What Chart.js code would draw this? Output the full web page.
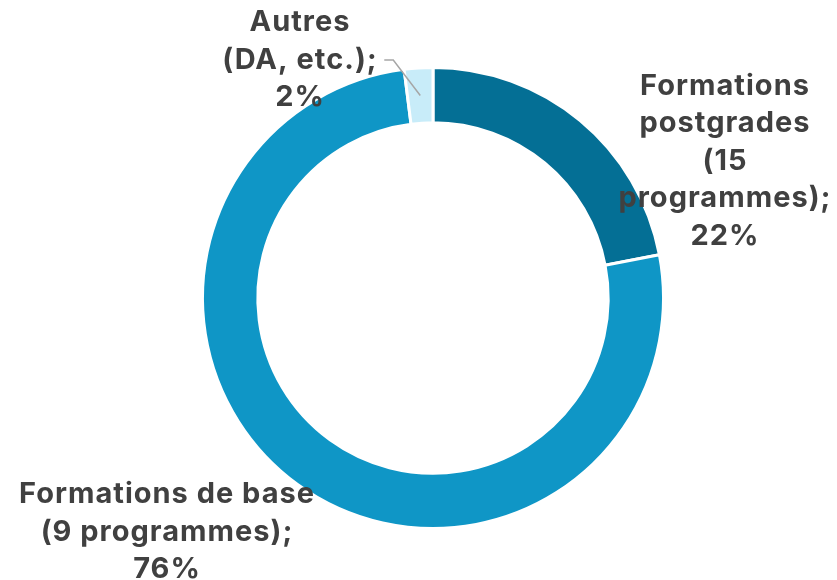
<!DOCTYPE html>
<html lang="fr">
<head>
<meta charset="UTF-8">
<title>Répartition des formations</title>
<script src="https://cdn.jsdelivr.net/npm/chart.js"></script>
<style>
  body { margin: 0; background: #ffffff; }
  #wrap { width: 837px; height: 580px; position: relative; }
</style>
</head>
<body>
<div id="wrap"><canvas id="myChart"></canvas></div>
<script>
// data
const categories = ['Formations postgrades (15 programmes)', 'Formations de base (9 programmes)', 'Autres (DA, etc.)'];
const shares = [22, 76, 2];
const labelLines = [
  ['Formations', 'postgrades', '(15', 'programmes);', '22%'],
  ['Formations de base', '(9 programmes);', '76%'],
  ['Autres', '(DA, etc.);', '2%']
];
const colors = ['#046f95', '#0f96c6', '#c8ecf9'];

const FONT = 'bold 29px Inter, "Liberation Sans", Arial, sans-serif';
const LINE_H = 37.5;

// label block centres, relative to the doughnut centre
const labelOffsets = [
  { dx: 292, dy: -137 },
  { dx: -266, dy: 234 },
  { dx: -133, dy: -238 }
];

const labelPlugin = {
  id: 'sliceLabels',
  afterDatasetsDraw(chart) {
    const ctx = chart.ctx;
    const meta = chart.getDatasetMeta(0);
    ctx.save();
    ctx.font = FONT;
    ctx.letterSpacing = '1px';
    ctx.fillStyle = '#404040';
    ctx.textAlign = 'center';
    ctx.textBaseline = 'middle';
    meta.data.forEach((arc, i) => {
      const p = arc.getProps(['x', 'y', 'startAngle', 'endAngle', 'outerRadius', 'innerRadius'], true);
      const lines = labelLines[i];
      const cx = p.x + labelOffsets[i].dx;
      const cy = p.y + labelOffsets[i].dy;
      const top = cy - (lines.length - 1) * LINE_H / 2;
      lines.forEach((t, k) => ctx.fillText(t, cx, top + k * LINE_H));

      if (i === 2) {
        // leader line from the ring middle to the label
        const mid = (p.startAngle + p.endAngle) / 2;
        const r = (p.outerRadius + p.innerRadius) / 2;
        const sx = p.x + Math.cos(mid) * r;
        const sy = p.y + Math.sin(mid) * r;
        const ey = top + LINE_H;
        ctx.strokeStyle = '#a6a6a6';
        ctx.lineWidth = 1.5;
        ctx.beginPath();
        ctx.moveTo(sx, sy);
        ctx.lineTo(sx - 27, ey);
        ctx.lineTo(sx - 36, ey);
        ctx.stroke();
      }
    });
    ctx.restore();
  }
};

new Chart(document.getElementById('myChart'), {
  type: 'doughnut',
  data: {
    labels: categories,
    datasets: [{
      data: shares,
      backgroundColor: colors,
      borderColor: '#ffffff',
      borderWidth: 3,
      hoverOffset: 0
    }]
  },
  options: {
    responsive: true,
    maintainAspectRatio: false,
    animation: false,
    cutout: '76%',
    layout: { padding: { top: 66, bottom: 50, left: 201, right: 172 } },
    plugins: {
      legend: { display: false },
      tooltip: { enabled: false }
    }
  },
  plugins: [labelPlugin]
});
</script>
</body>
</html>
